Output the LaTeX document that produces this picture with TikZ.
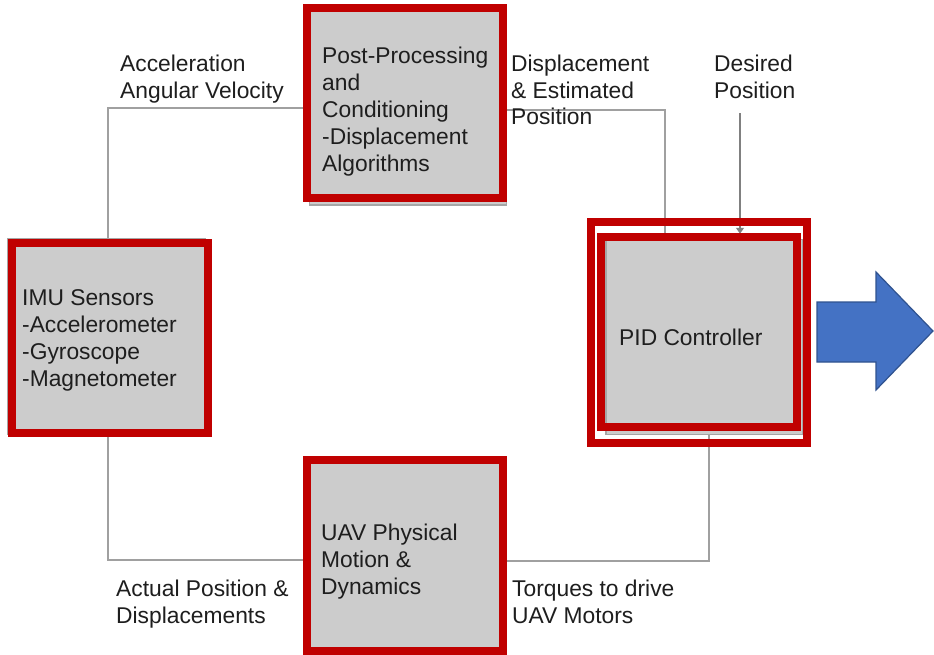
\documentclass[tikz,border=0pt]{standalone}
\usepackage{fontspec}
\setmainfont{Liberation Sans}
\usetikzlibrary{arrows.meta}

\definecolor{boxgray}{HTML}{CCCCCC}
\definecolor{edgegray}{HTML}{A6A6A6}
\definecolor{linegray}{HTML}{A0A0A0}
\definecolor{frame}{HTML}{C00000}
\definecolor{arrowblue}{HTML}{4472C4}
\definecolor{arrowedge}{HTML}{2F528F}
\definecolor{ink}{HTML}{1E1E1E}

% left-aligned multi-line text whose baseline is the first line
\newcommand{\txtlines}[1]{\begin{tabular}[t]{@{}l@{}}#1\end{tabular}}

\begin{document}
\begin{tikzpicture}[x=1pt,y=-1pt,
  blockbox/.style={draw=edgegray,line width=1.5pt,fill=boxgray,inner sep=0pt,
    minimum width=197pt,minimum height=195pt},
  redframe/.style={draw=frame,line width=8pt,inner sep=0pt,
    minimum width=196pt,minimum height=190pt},
  boxtext/.style={anchor=base west,inner sep=0pt,text=ink,
    font=\fontsize{22.8}{27}\selectfont},
  labeltext/.style={anchor=base west,inner sep=0pt,text=ink,
    font=\fontsize{22.8}{26.5}\selectfont},
  conn/.style={draw=linegray,line width=1.2pt},
  inarrow/.style={draw=gray,line width=1.2pt,shorten >=5pt,
    -{Triangle[width=8pt,length=6pt]}}
]
\useasboundingbox[fill=white] (0,0) rectangle (934,654);

% grey blocks
\node[blockbox] (post) at (408,107.5) {};
\node[blockbox] (imu)  at (106.5,336.5) {};
\node[blockbox] (uav)  at (408,557) {};
\node[blockbox] (pid)  at (704.5,337) {};

% loop connectors
\coordinate (desired) at (740,113);
\draw[conn] ([xshift=1.5pt]imu.north) |- ([yshift=-0.5pt]post.west);
\draw[conn] ([yshift=-2.5pt]post.east) -| ([xshift=-39.5pt]pid.north);
\draw[inarrow] (desired) -- (desired |- pid.north);
\draw[conn] ([xshift=4.5pt]pid.south) |- ([yshift=-4pt]uav.east);
\draw[conn] ([yshift=-3pt]uav.west) -| ([xshift=1.5pt]imu.south);

% red highlight frames
\node[redframe] (postframe) at (405,102.5) {};
\node[redframe] (imuframe)  at (110,338) {};
\node[redframe,minimum height=191pt] (uavframe) at (405,555.5) {};
\node[redframe] (pidframe)  at (699,332) {};
\node[redframe,minimum width=216pt,minimum height=221pt] (pidouter) at (699,332.5) {};

% output arrow
\draw[fill=arrowblue,draw=arrowedge,line width=1.2pt,line join=miter]
  (817,302) -- (876,302) -- (876,272) -- (933,331) -- (876,390)
  -- (876,362) -- (817,362) -- cycle;

% block texts
\node[boxtext] (posttext) at (322,63)
  {\txtlines{Post-Processing\\and\\Conditioning\\-Displacement\\Algorithms}};
\node[boxtext] (imutext) at (22,305)
  {\txtlines{IMU Sensors\\-Accelerometer\\-Gyroscope\\-Magnetometer}};
\node[boxtext] (uavtext) at (321,540)
  {\txtlines{UAV Physical\\Motion \&\\Dynamics}};
\node[boxtext] (pidtext) at (619,345.7) {PID Controller};

% signal labels
\node[labeltext] (accel) at (120,71.7)
  {\txtlines{Acceleration\\Angular Velocity}};
\node[labeltext] (displ) at (511,71.7)
  {\txtlines{Displacement\\\& Estimated\\Position}};
\node[labeltext] (despos) at (714,71.7)
  {\txtlines{Desired\\Position}};
\node[labeltext] (actual) at (116,596.7)
  {\txtlines{Actual Position \&\\Displacements}};
\node[labeltext] (torque) at (512,596.7)
  {\txtlines{Torques to drive\\UAV Motors}};
\end{tikzpicture}
\end{document}
